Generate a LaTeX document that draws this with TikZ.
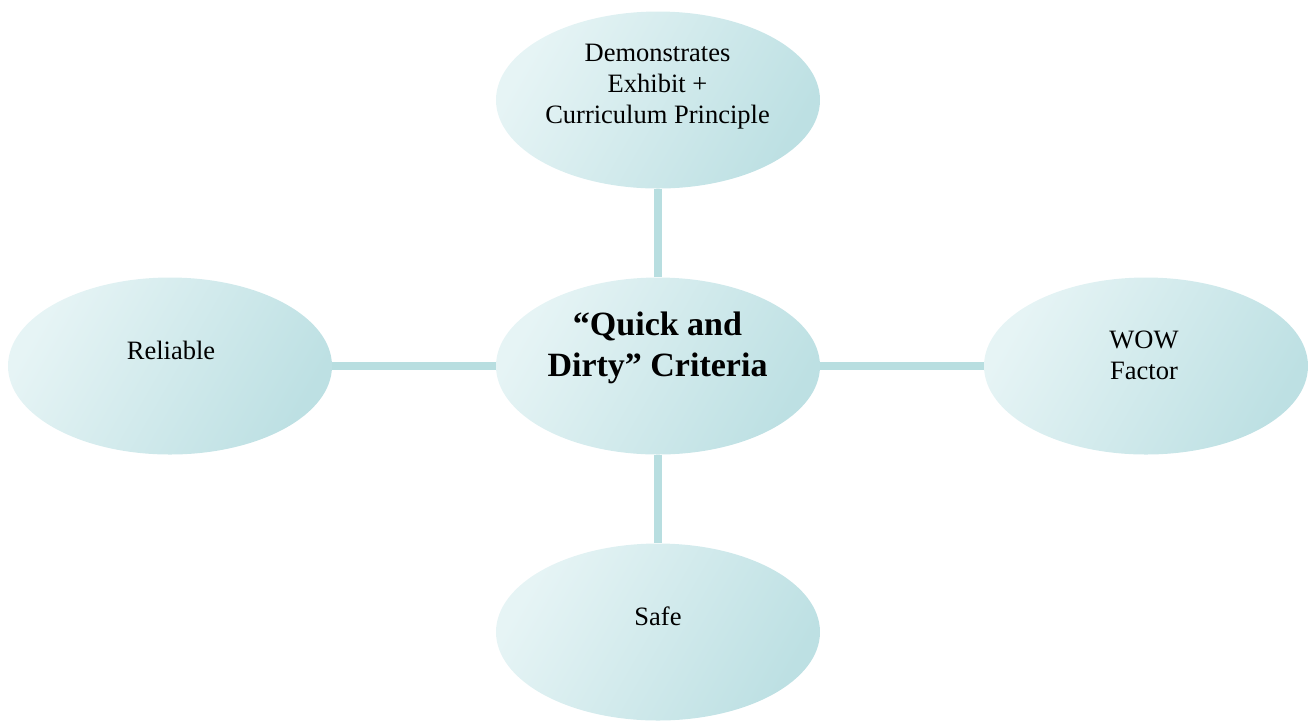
\documentclass[tikz,border=0pt]{standalone}
\usepackage{fontspec}
\setmainfont{Liberation Serif}
\usetikzlibrary{shapes.geometric}
\definecolor{bubblelight}{HTML}{E6F4F5}
\definecolor{bubbledark}{HTML}{BDE0E3}
\definecolor{linkcol}{HTML}{B8DEE0}

\begin{document}
\begin{tikzpicture}[x=0.5pt,y=-0.5pt,
    bubble/.style={ellipse,minimum width=162pt,minimum height=88.5pt,inner sep=0pt,
      left color=bubblelight,right color=bubbledark,shading angle=60},
    link/.style={linkcol,line width=4pt},
    txt/.style={inner sep=0pt,align=center,font=\fontsize{13.25}{15.5}\selectfont},
    bigtxt/.style={inner sep=0pt,align=center,font=\fontsize{17}{20.5}\selectfont\bfseries}]
  % Page
  \useasboundingbox (0,0) rectangle (1314,720);
  % Bubbles
  \node[bubble] (crit) at (658,366) {};
  \node[bubble] (demo) at (658,100) {};
  \node[bubble] (rel) at (170,366) {};
  \node[bubble] (wow) at (1146,366) {};
  \node[bubble] (safe) at (658,632) {};
  % Connectors
  \draw[link] (crit.north) -- (demo.south);
  \draw[link] (crit.south) -- (safe.north);
  \draw[link] (crit.west) -- (rel.east);
  \draw[link] (crit.east) -- (wow.west);
  % Texts
  \node[bigtxt] (critT) at (657.5,348) {``Quick and\\Dirty'' Criteria};
  \node[txt] (demoT) at (657.5,87) {Demonstrates\\Exhibit +\\Curriculum Principle};
  \node[txt] (relT) at (171,350) {Reliable};
  \node[txt] (wowT) at (1144,355) {WOW\\Factor};
  \node[txt] (safeT) at (658,616) {Safe};
\end{tikzpicture}
\end{document}
